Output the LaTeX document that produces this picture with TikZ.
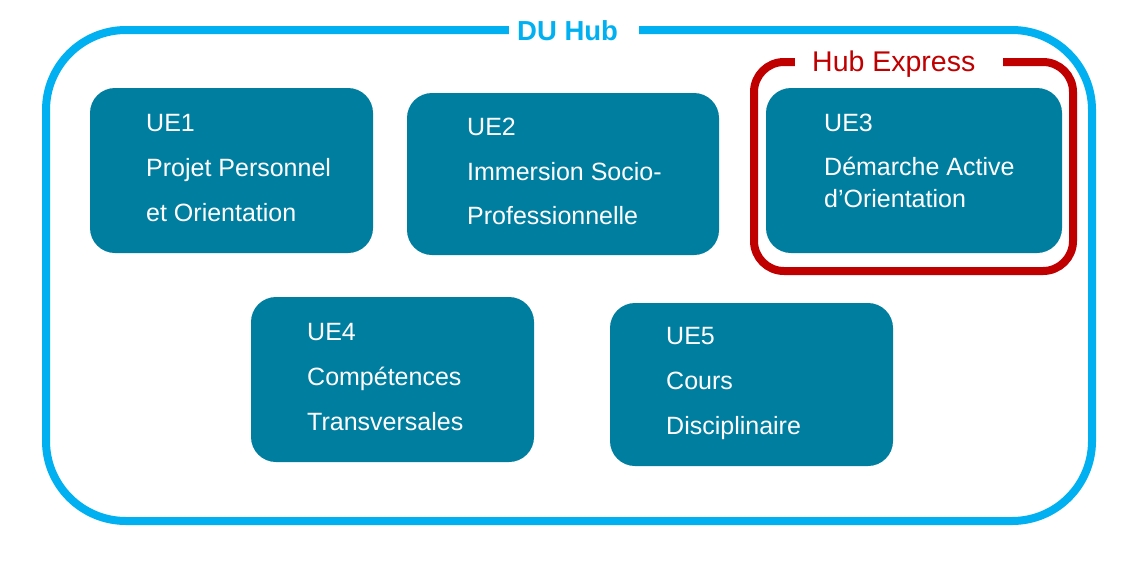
\documentclass[tikz,border=0pt]{standalone}
\usepackage{fontspec}
\setmainfont{Liberation Sans}
\definecolor{uefill}{RGB}{0,126,160}
\definecolor{hubblue}{RGB}{0,176,240}
\definecolor{hubred}{RGB}{192,0,0}
\begin{document}
\begin{tikzpicture}[x=1pt,y=-1pt,
  uebox/.style={fill=uefill, rounded corners=25pt, inner sep=0pt, draw=none},
  uetxt/.style={text=white, anchor=base west, inner sep=0pt, font=\fontsize{25}{30}\selectfont},
  gapbox/.style={fill=white, inner sep=0pt, draw=none}]
\useasboundingbox (0,0) rectangle (1139,560);
\fill[white] (0,0) rectangle (1139,560);
% outer DU Hub frame
\node[draw=hubblue, line width=8pt, rounded corners=80pt, minimum width=1046pt, minimum height=491pt, inner sep=0pt] (hub) at (569,275.5) {};
\node[gapbox, minimum width=130pt, minimum height=20pt] (hubgap) at (574,30) {};
\node[anchor=base west, inner sep=0pt, text=hubblue, font=\fontsize{27.5}{30}\selectfont\bfseries] (hubtitle) at (517,40) {DU Hub};
% Hub Express frame
\node[draw=hubred, line width=8pt, rounded corners=30pt, minimum width=319pt, minimum height=209pt, inner sep=0pt] (express) at (913.5,166.5) {};
\node[gapbox, minimum width=208pt, minimum height=20pt] (expgap) at (899,62) {};
\node[anchor=base west, inner sep=0pt, text=hubred, font=\fontsize{28.5}{30}\selectfont] (exptitle) at (812,71) {Hub Express};
% UE boxes
\node[uebox, minimum width=283pt, minimum height=165pt] (ue1) at (231.5,170.5) {};
\node[uebox, minimum width=312pt, minimum height=162pt] (ue2) at (563,174) {};
\node[uebox, minimum width=296pt, minimum height=165pt] (ue3) at (914,170.5) {};
\node[uebox, minimum width=283pt, minimum height=165pt] (ue4) at (392.5,379.5) {};
\node[uebox, minimum width=283pt, minimum height=163pt] (ue5) at (751.5,384.5) {};
% texts
\node[uetxt] (t1a) at (146,131) {UE1};
\node[uetxt] (t1b) at (146,176) {Projet Personnel};
\node[uetxt] (t1c) at (146,221) {et Orientation};
\node[uetxt] (t2a) at (467,135) {UE2};
\node[uetxt] (t2b) at (467,180) {Immersion Socio-};
\node[uetxt] (t2c) at (467,224) {Professionnelle};
\node[uetxt] (t3a) at (824,131) {UE3};
\node[uetxt] (t3b) at (824,175) {Démarche Active};
\node[uetxt] (t3c) at (824,207) {d’Orientation};
\node[uetxt] (t4a) at (307,340) {UE4};
\node[uetxt] (t4b) at (307,385) {Compétences};
\node[uetxt] (t4c) at (307,430) {Transversales};
\node[uetxt] (t5a) at (666,344) {UE5};
\node[uetxt] (t5b) at (666,389) {Cours};
\node[uetxt] (t5c) at (666,434) {Disciplinaire};
\end{tikzpicture}
\end{document}
